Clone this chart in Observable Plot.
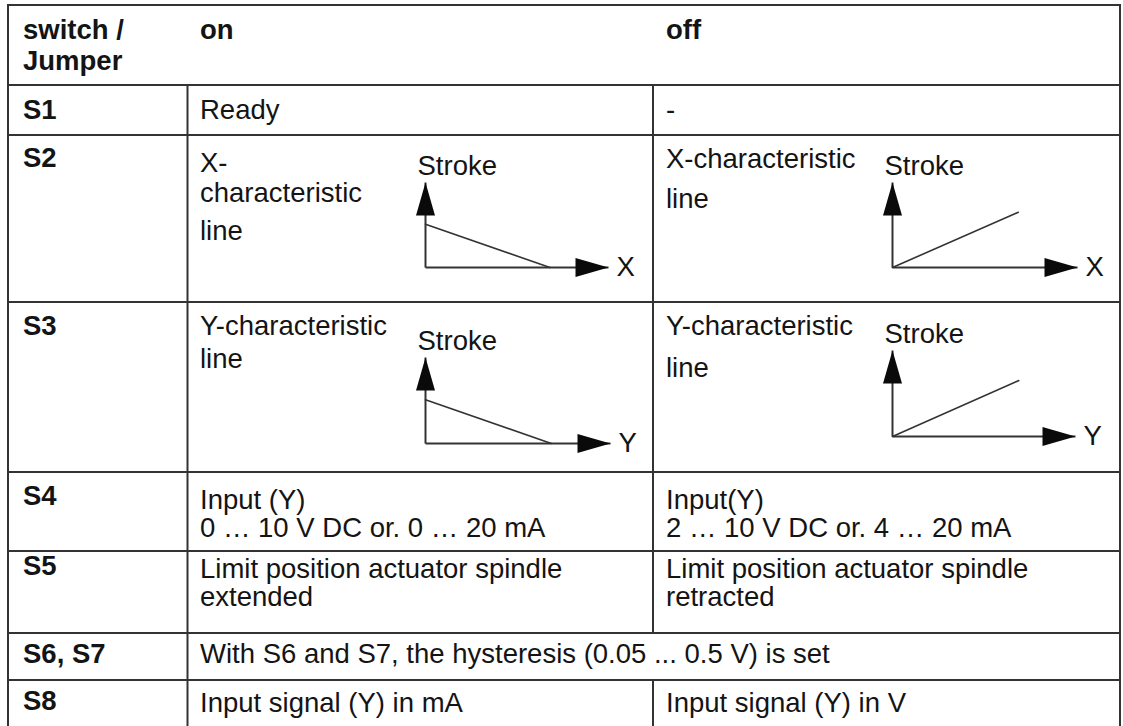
<!DOCTYPE html>
<html><head><meta charset="utf-8">
<script src="https://cdn.jsdelivr.net/npm/d3@7"></script>
<script src="https://cdn.jsdelivr.net/npm/@observablehq/plot@0.6"></script>
<style>
html,body{margin:0;padding:0;background:#fff;}
#root{position:relative;width:1123px;height:726px;overflow:hidden;background:#fff;font-family:"Liberation Sans",Arial,Helvetica,sans-serif;}
#root svg{position:absolute;}
</style></head><body><div id="root"></div>
<script>
// ---------- table content ----------
const headers = [["switch /", "Jumper"], ["on"], ["off"]];
const rowLabels = ["S1", "S2", "S3", "S4", "S5", "S6, S7", "S8"];
const onText = [
  ["Ready"],
  ["X-", "characteristic", "line"],
  ["Y-characteristic", "line"],
  ["Input (Y)", "0 … 10 V DC or. 0 … 20 mA"],
  ["Limit position actuator spindle", "extended"],
  ["With S6 and S7, the hysteresis (0.05 ... 0.5 V) is set"],
  ["Input signal (Y) in mA"]
];
const offText = [
  ["-"],
  ["X-characteristic", "line"],
  ["Y-characteristic", "line"],
  ["Input(Y)", "2 … 10 V DC or. 4 … 20 mA"],
  ["Limit position actuator spindle", "retracted"],
  null,
  ["Input signal (Y) in V"]
];

// ---------- mini characteristic charts ----------
const panels = ["S2 on", "S2 off", "S3 on", "S3 off"];
const axisNames = ["X", "X", "Y", "Y"];
const yAxisName = "Stroke";
// characteristic line: [x, stroke] at start and end (fraction of axis length)
const lineStart = [[0, 0.51], [0, 0], [0, 0.51], [0, 0]];
const lineEnd   = [[0.68, 0], [0.68, 0.65], [0.68, 0], [0.69, 0.65]];

// ---------- layout (pixels) ----------
const colEdges = [8, 187.5, 653, 1120];
const rowEdges = [5, 85, 135, 302, 472, 551, 633, 680, 740];
const textX = [23, 200, 666];
const headerBaselines = [[39, 70], [39], [39]];
const labelBaselines = [119, 167, 335, 505, 575, 663, 710];
const onBaselines = [[119], [172, 202, 240], [335, 368], [509, 537], [578, 606], [663], [712]];
const offBaselines = [[119], [168, 208], [335, 377], [509, 537], [578, 606], null, [712]];
const chartOrigin = [[425, 267], [892, 267], [425, 443], [892, 436]];
const chartXLen = [183, 185, 185, 183];
const chartYLen = [85, 85, 86, 86];

const FONT = '"Liberation Sans", Arial, Helvetica, sans-serif';
const FS = 27.5, INK = "#141414", RULE = "#333";

const root = document.getElementById("root");
const svg = d3.select(root).append("svg")
  .attr("width", 1123).attr("height", 726).style("left", "0px").style("top", "0px")
  .style("font-family", FONT).style("font-size", FS + "px");

// grid lines
const gl = svg.append("g").attr("stroke", RULE).attr("stroke-width", 2);
rowEdges.slice(0, -1).forEach(y => gl.append("line").attr("x1", colEdges[0] - 1).attr("x2", colEdges[3] + 1).attr("y1", y).attr("y2", y));
gl.append("line").attr("x1", colEdges[0]).attr("x2", colEdges[0]).attr("y1", rowEdges[0]).attr("y2", 740);
gl.append("line").attr("x1", colEdges[3]).attr("x2", colEdges[3]).attr("y1", rowEdges[0]).attr("y2", 740);
gl.append("line").attr("x1", colEdges[1]).attr("x2", colEdges[1]).attr("y1", rowEdges[1]).attr("y2", 740);
// third column separator skipped in merged row (S6, S7)
rowLabels.forEach((lab, i) => {
  if (offText[i] === null) return;
  gl.append("line").attr("x1", colEdges[2]).attr("x2", colEdges[2]).attr("y1", rowEdges[i + 1]).attr("y2", rowEdges[i + 2]);
});

function addLines(lines, x, baselines, bold) {
  lines.forEach((t, k) => svg.append("text").attr("x", x).attr("y", baselines[k])
    .attr("fill", INK).attr("font-weight", bold ? "bold" : "normal").text(t));
}
headers.forEach((h, c) => addLines(h, textX[c], headerBaselines[c], true));
rowLabels.forEach((lab, i) => {
  addLines([lab], textX[0], [labelBaselines[i]], true);
  addLines(onText[i], textX[1], onBaselines[i], false);
  if (offText[i]) addLines(offText[i], textX[2], offBaselines[i], false);
});

// filled arrowhead symbol, tip at the anchor, pointing up
const arrowHead = {
  draw(ctx) {
    const L = 33, W = 19;
    ctx.moveTo(0, 0); ctx.lineTo(-W / 2, L); ctx.lineTo(W / 2, L); ctx.closePath();
  }
};

panels.forEach((name, i) => {
  const padL = 40, padR = 45, padT = 45, padB = 20;
  const xLen = chartXLen[i], yLen = chartYLen[i];
  const axes = [
    {x1: 0, y1: 0, x2: 0, y2: 1},
    {x1: 0, y1: 0, x2: 1, y2: 0}
  ];
  const tips = [{x: 0, y: 1, rotate: 0}, {x: 1, y: 0, rotate: 90}];
  const series = [
    {x: lineStart[i][0], y: lineStart[i][1]},
    {x: lineEnd[i][0], y: lineEnd[i][1]}
  ];
  const chart = Plot.plot({
    width: padL + xLen + padR,
    height: padT + yLen + padB,
    marginLeft: padL, marginRight: padR, marginTop: padT, marginBottom: padB,
    x: {domain: [0, 1], axis: null},
    y: {domain: [0, 1], axis: null},
    style: {background: "transparent", overflow: "visible", fontFamily: FONT, color: INK},
    marks: [
      Plot.link(axes, {x1: "x1", y1: "y1", x2: "x2", y2: "y2", stroke: RULE, strokeWidth: 2}),
      Plot.line(series, {x: "x", y: "y", stroke: RULE, strokeWidth: 1.6}),
      Plot.dot(tips, {x: "x", y: "y", rotate: "rotate", symbol: arrowHead, r: 5, fill: "#0a0a0a"}),
      Plot.text([yAxisName], {x: () => 0, y: () => 1, text: d => d, dx: -8, dy: -8,
        textAnchor: "start", lineAnchor: "bottom", fontSize: FS, fill: INK}),
      Plot.text([axisNames[i]], {x: () => 1, y: () => 0, text: d => d, dx: 8,
        textAnchor: "start", lineAnchor: "middle", fontSize: FS, fill: INK})
    ]
  });
  chart.style.position = "absolute";
  chart.style.left = (chartOrigin[i][0] - padL) + "px";
  chart.style.top = (chartOrigin[i][1] - yLen - padT) + "px";
  chart.style.maxWidth = "none";
  root.appendChild(chart);
});
</script></body></html>
